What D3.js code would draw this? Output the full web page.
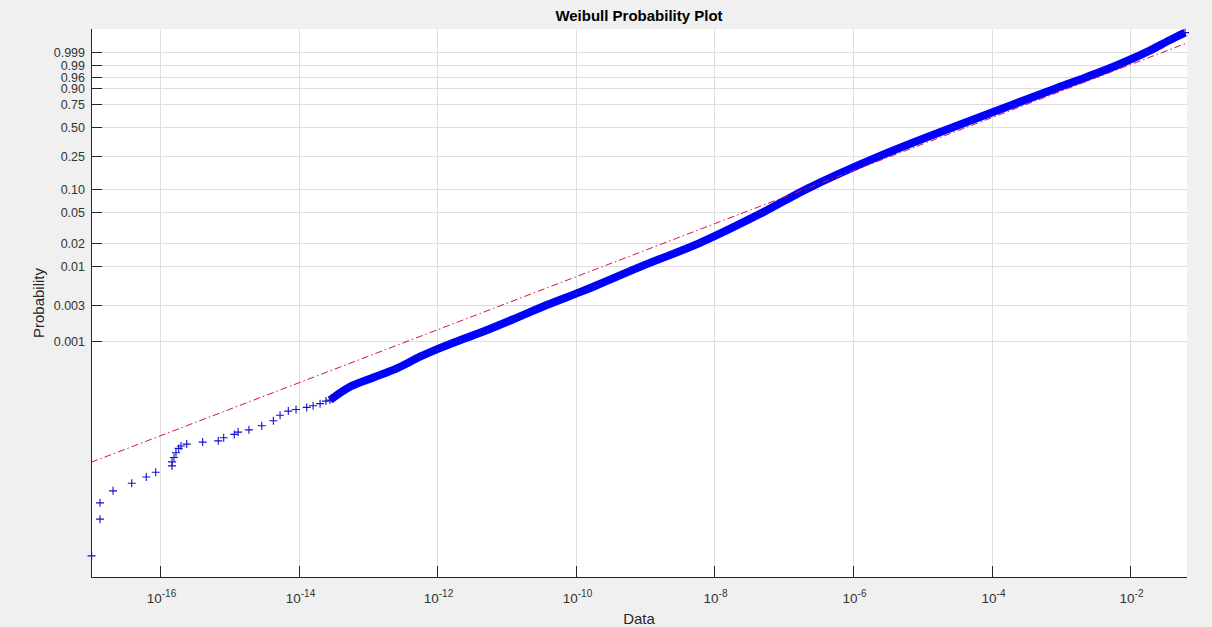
<!DOCTYPE html>
<html><head><meta charset="utf-8">
<script src="https://cdn.jsdelivr.net/npm/d3@7"></script>
<style>
body{margin:0;background:#f0f0f0;}
svg{display:block;}
text{font-family:"Liberation Sans",Arial,Helvetica,sans-serif;}
</style>
</head><body>
<svg id="c" width="1212" height="627"></svg>
<script>
// ---- data ----
const dataX = [1.03e-17, 1.36e-17, 1.36e-17, 2.10e-17, 3.91e-17, 6.34e-17, 8.67e-17, 1.49e-16, 1.49e-16, 1.59e-16,
  1.70e-16, 1.86e-16, 2.01e-16, 2.43e-16, 4.13e-16, 6.93e-16, 8.30e-16, 1.18e-15, 1.34e-15, 1.92e-15,
  2.94e-15, 4.32e-15, 5.40e-15, 7.10e-15, 9.18e-15, 1.31e-14, 1.62e-14, 2.04e-14, 2.48e-14, 2.84e-14,
  5.52e-14, 1.20e-13, 2.61e-13, 5.65e-13, 9.84e-13, 2.13e-12, 4.15e-12, 1.25e-11, 3.80e-11, 1.03e-10,
  1.79e-10, 9.33e-10, 6.19e-9, 5.02e-8, 2.17e-7, 2.45e-6, 2.77e-5, 2.04e-4, 8.79e-4, 2.38e-3,
  6.46e-3, 1.75e-2, 3.75e-2, 6.18e-2];
const dataP = [1.41e-6, 4.34e-6, 7.14e-6, 1.03e-5, 1.30e-5, 1.57e-5, 1.82e-5, 2.21e-5, 2.50e-5, 2.86e-5,
  3.30e-5, 3.77e-5, 4.05e-5, 4.30e-5, 4.57e-5, 4.75e-5, 5.21e-5, 5.78e-5, 6.21e-5, 6.65e-5,
  7.52e-5, 8.77e-5, 1.04e-4, 1.18e-4, 1.24e-4, 1.32e-4, 1.39e-4, 1.48e-4, 1.60e-4, 1.65e-4,
  2.48e-4, 3.30e-4, 4.35e-4, 6.21e-4, 7.78e-4, 1.03e-3, 1.29e-3, 1.95e-3, 3.01e-3, 4.30e-3,
  5.27e-3, 0.010, 0.020, 0.050, 0.100, 0.250, 0.500, 0.750, 0.900, 0.960,
  0.990, 0.999, 0.999952, 0.9999961];
const probTicks = [0.001, 0.003, 0.01, 0.02, 0.05, 0.10, 0.25, 0.50, 0.75, 0.90, 0.96, 0.99, 0.999];
const probTickLabels = ["0.001","0.003","0.01","0.02","0.05","0.10","0.25","0.50","0.75","0.90","0.96","0.99","0.999"];
const xTickExponents = [-16, -14, -12, -10, -8, -6, -4, -2];
const fitScale = 1.25e-4;   // Weibull scale a
const fitShape = 0.352;     // Weibull shape b
const xDomain = [1.01e-17, 0.066];
const pDomain = [7.4e-7, 1 - 8.9e-7];
const denseFrom = 2.8e-14;

// ---- layout ----
const L = 91, R = 1187, T = 29, B = 577;
const svg = d3.select("#c");

const tf = p => Math.log10(-Math.log1p(-p));
const x = d3.scaleLog().domain(xDomain).range([L, R]);
const yLin = d3.scaleLinear().domain([tf(pDomain[0]), tf(pDomain[1])]).range([B, T]);
const y = p => yLin(tf(p));

// plot background
svg.append("rect").attr("x", L).attr("y", T).attr("width", R - L).attr("height", B - T).attr("fill", "#ffffff");

// grid
const grid = svg.append("g").attr("stroke", "#dedede").attr("stroke-width", 1);
xTickExponents.forEach(e => {
  const px = Math.round(x(Math.pow(10, e))) + 0.5;
  grid.append("line").attr("x1", px).attr("x2", px).attr("y1", T).attr("y2", B);
});
probTicks.forEach(p => {
  const py = Math.round(y(p)) + 0.5;
  grid.append("line").attr("x1", L).attr("x2", R).attr("y1", py).attr("y2", py);
});

// clip (markers may straddle the left axis, as in the reference)
svg.append("clipPath").attr("id", "clip").append("rect")
  .attr("x", L - 5).attr("y", T - 6).attr("width", R - L + 9).attr("height", B - T + 6);
svg.append("clipPath").attr("id", "clipLine").append("rect")
  .attr("x", L).attr("y", T).attr("width", R - L).attr("height", B - T);
const plot = svg.append("g").attr("clip-path", "url(#clip)");

// data points
const pts = dataX.map((v, i) => ({x: v, p: dataP[i]}));

// dense band of overlapping markers
const band = pts.filter(d => d.x >= denseFrom);
plot.append("path").datum(band)
  .attr("d", d3.line().x(d => x(d.x)).y(d => y(d.p)).curve(d3.curveCatmullRom))
  .attr("fill", "none").attr("stroke", "#0000ff").attr("stroke-width", 8)
  .attr("stroke-linecap", "butt").attr("stroke-linejoin", "round");

// markers
plot.append("g").selectAll("path").data(pts).join("path")
  .attr("transform", d => `translate(${x(d.x)},${y(d.p)})`)
  .attr("d", "M-4,0H4M0,-4V4")
  .attr("stroke", "#1010d0").attr("stroke-width", 1.1).attr("fill", "none");

// fit line (Weibull CDF is straight on these axes)
const fitPts = xDomain.map(v => ({x: v, p: 1 - Math.exp(-Math.pow(v / fitScale, fitShape))}));
svg.append("g").attr("clip-path", "url(#clipLine)").append("path").datum(fitPts)
  .attr("d", d3.line().x(d => x(d.x)).y(d => y(d.p)))
  .attr("fill", "none").attr("stroke", "#d8103c").attr("stroke-width", 1)
  .attr("stroke-dasharray", "7,3,1.5,3");

// axes lines
const axc = "#262626";
svg.append("line").attr("x1", L + 0.5).attr("x2", L + 0.5).attr("y1", T).attr("y2", B + 0.5).attr("stroke", axc);
svg.append("line").attr("x1", L).attr("x2", R).attr("y1", B + 0.5).attr("y2", B + 0.5).attr("stroke", axc);

// y ticks + labels
probTicks.forEach((p, i) => {
  const py = Math.round(y(p)) + 0.5;
  svg.append("line").attr("x1", L).attr("x2", L + 11).attr("y1", py).attr("y2", py).attr("stroke", axc);
  svg.append("text").attr("x", 85).attr("y", py).attr("dy", "0.35em")
    .attr("text-anchor", "end").attr("font-size", 12.5).attr("fill", "#333")
    .text(probTickLabels[i]);
});

// x ticks + labels
xTickExponents.forEach(e => {
  const px = Math.round(x(Math.pow(10, e))) + 0.5;
  svg.append("line").attr("x1", px).attr("x2", px).attr("y1", B).attr("y2", B - 11).attr("stroke", axc);
  const t = svg.append("text").attr("x", px + 1).attr("y", 603)
    .attr("text-anchor", "middle").attr("font-size", 13.5).attr("fill", "#333");
  t.append("tspan").text("10");
  t.append("tspan").attr("dy", -6).attr("font-size", 10).text(String(e));
});

// titles
svg.append("text").attr("x", (L + R) / 2).attr("y", 21).attr("text-anchor", "middle")
  .attr("font-size", 15).attr("font-weight", "bold").attr("fill", "#000")
  .text("Weibull Probability Plot");
svg.append("text").attr("x", (L + R) / 2).attr("y", 624).attr("text-anchor", "middle")
  .attr("font-size", 15).attr("fill", "#262626").text("Data");
svg.append("text").attr("transform", `translate(44,${(T + B) / 2}) rotate(-90)`)
  .attr("text-anchor", "middle").attr("font-size", 15).attr("fill", "#262626").text("Probability");
</script>
</body></html>
